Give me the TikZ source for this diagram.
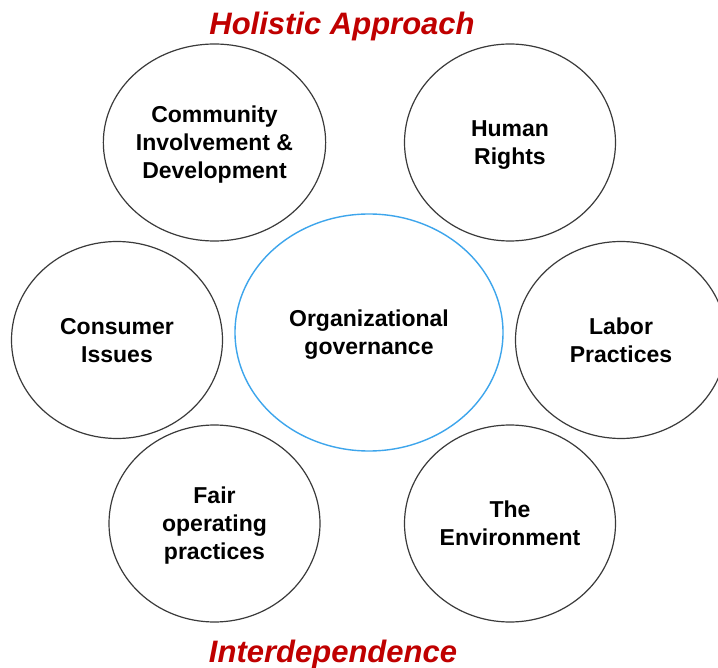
\documentclass[tikz,border=0pt]{standalone}
\usepackage{fontspec}
\setmainfont{Liberation Sans}
\usetikzlibrary{shapes.geometric}
\definecolor{titlered}{HTML}{C00000}
\definecolor{govblue}{HTML}{3DA5EC}
\definecolor{ringgray}{HTML}{3A3A3A}
\begin{document}
\begin{tikzpicture}[x=1pt,y=-1pt,
  ring/.style={ellipse, draw=ringgray, line width=1.2pt, minimum width=211pt, minimum height=197pt,
    inner sep=0pt, align=center, text depth=0pt, font=\fontsize{23pt}{28pt}\selectfont\bfseries},
  govring/.style={ring, draw=govblue, line width=1.4pt, minimum width=268pt, minimum height=237pt},
  heading/.style={anchor=base, text=titlered, inner sep=0pt, font=\fontsize{31pt}{31pt}\selectfont\bfseries\itshape}]
\clip (0,0) rectangle (718,668);
\fill[white] (0,0) rectangle (718,668);
\node[heading] (holistic) at (342,35) {Holistic Approach};
\node[heading] (inter) at (333,662) {Interdependence};
\node[govring] (gov) at (369,332.5) {Organizational\\governance};
\node[ring] (community) at (214.5,142.5) {Community\\Involvement \&\\Development};
\node[ring] (human) at (510,142.5) {Human\\Rights};
\node[ring] (consumer) at (117,340) {Consumer\\Issues};
\node[ring] (labor) at (621,340) {Labor\\Practices};
\node[ring] (fair) at (214.5,523.5) {Fair\\operating\\practices};
\node[ring] (env) at (510,523.5) {The\\Environment};
\end{tikzpicture}
\end{document}
